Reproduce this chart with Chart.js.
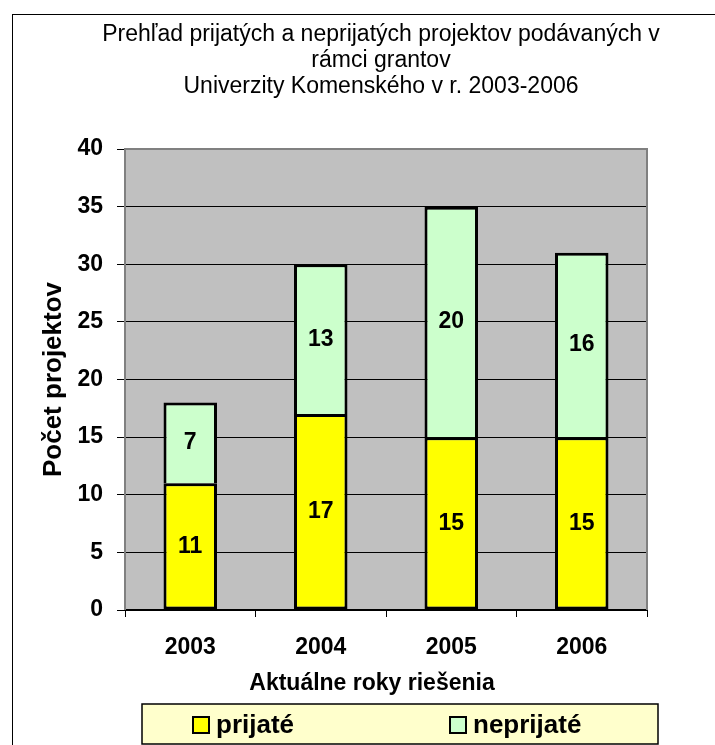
<!DOCTYPE html>
<html>
<head>
<meta charset="utf-8">
<script src="https://cdn.jsdelivr.net/npm/chart.js@4/dist/chart.umd.min.js"></script>
<style>
  body { margin: 0; background: #fff; }
  canvas { display: block; }
</style>
</head>
<body>
<canvas id="grantChart" width="715" height="745"></canvas>
<script>
const years = ["2003", "2004", "2005", "2006"];
const accepted = [11, 17, 15, 15];
const rejected = [7, 13, 20, 16];
const seriesNames = ["prijaté", "neprijaté"];
const titleLines = [
  "Prehľad prijatých a neprijatých projektov podávaných v",
  "rámci grantov",
  "Univerzity Komenského v r. 2003-2006",
];

const FONT = "Arial, 'Liberation Sans', sans-serif";
Chart.defaults.font.family = FONT;
Chart.defaults.color = "#000";

const colors = ["#FFFF00", "#CCFFCC"];

// frame, plot background, title, legend, x title
const decorPlugin = {
  id: "decor",
  beforeDraw(chart) {
    const { ctx, chartArea: a } = chart;
    ctx.save();
    ctx.fillStyle = "#fff";
    ctx.fillRect(0, 0, chart.width, chart.height);
    ctx.strokeStyle = "#000";
    ctx.lineWidth = 1;
    ctx.strokeRect(12.5, 14.5, 800, 800);
    ctx.fillStyle = "#C0C0C0";
    ctx.fillRect(a.left, a.top, a.right - a.left, a.bottom - a.top);

    // title
    ctx.fillStyle = "#000";
    ctx.font = "23px " + FONT;
    ctx.textAlign = "center";
    ctx.textBaseline = "middle";
    titleLines.forEach((t, i) => ctx.fillText(t, 381, 35 + i * 26));

    // x axis title
    ctx.font = "bold 23px " + FONT;
    ctx.fillText("Aktuálne roky riešenia", 372, 684);

    // legend
    ctx.fillStyle = "#FFFFCC";
    ctx.fillRect(142, 704, 516, 40);
    ctx.strokeStyle = "#000";
    ctx.lineWidth = 1.5;
    ctx.strokeRect(142, 704, 516, 40);
    const items = [193, 450];
    ctx.font = "bold 26px " + FONT;
    ctx.textAlign = "left";
    items.forEach((x, i) => {
      ctx.fillStyle = colors[i];
      ctx.fillRect(x, 717, 16, 16);
      ctx.lineWidth = 2;
      ctx.strokeRect(x, 717, 16, 16);
      ctx.fillStyle = "#000";
      ctx.fillText(seriesNames[i], x + 23, 726);
    });
    ctx.restore();
  },
  beforeDatasetsDraw(chart) {
    const { ctx, chartArea: a } = chart;
    ctx.save();
    ctx.strokeStyle = "#808080";
    ctx.lineWidth = 2;
    ctx.beginPath();
    ctx.moveTo(a.left, a.bottom);
    ctx.lineTo(a.left, a.top);
    ctx.lineTo(a.right, a.top);
    ctx.lineTo(a.right, a.bottom);
    ctx.stroke();
    ctx.restore();
  },
  afterDatasetsDraw(chart) {
    const { ctx } = chart;
    ctx.save();
    ctx.font = "bold 23px " + FONT;
    ctx.fillStyle = "#000";
    ctx.textAlign = "center";
    ctx.textBaseline = "middle";
    chart.data.datasets.forEach((ds, i) => {
      chart.getDatasetMeta(i).data.forEach((bar, j) => {
        ctx.fillText(ds.data[j], bar.x, (bar.y + bar.base) / 2);
      });
    });
    ctx.restore();
  },
};

new Chart(document.getElementById("grantChart").getContext("2d"), {
  type: "bar",
  data: {
    labels: years,
    datasets: [
      {
        label: seriesNames[0],
        data: accepted,
        backgroundColor: colors[0],
        borderColor: "#000",
        borderWidth: 3,
        borderSkipped: false,
        categoryPercentage: 1,
        barPercentage: 0.41,
      },
      {
        label: seriesNames[1],
        data: rejected,
        backgroundColor: colors[1],
        borderColor: "#000",
        borderWidth: 3,
        borderSkipped: "start",
        categoryPercentage: 1,
        barPercentage: 0.41,
      },
    ],
  },
  options: {
    responsive: false,
    animation: false,
    layout: { padding: { top: 149, right: 68, bottom: 40, left: 0 } },
    plugins: {
      legend: { display: false },
      title: { display: false },
      tooltip: { enabled: false },
    },
    scales: {
      x: {
        stacked: true,
        afterFit: (scale) => { scale.height = 95; },
        grid: {
          offset: true,
          drawOnChartArea: false,
          drawTicks: true,
          tickLength: 7,
          color: "#000",
        },
        border: { color: "#000", width: 2 },
        ticks: { font: { size: 23, weight: "bold" }, padding: 17 },
      },
      y: {
        stacked: true,
        min: 0,
        max: 40,
        afterFit: (scale) => { scale.width = 125; },
        ticks: { stepSize: 5, font: { size: 23, weight: "bold" }, padding: 14 },
        grid: { color: "#000", lineWidth: 1, tickLength: 8 },
        border: { display: false },
        title: {
          display: true,
          text: "Počet projektov",
          font: { size: 26, weight: "bold" },
          padding: { top: 38, bottom: 0 },
        },
      },
    },
  },
  plugins: [decorPlugin],
});
</script>
</body>
</html>
